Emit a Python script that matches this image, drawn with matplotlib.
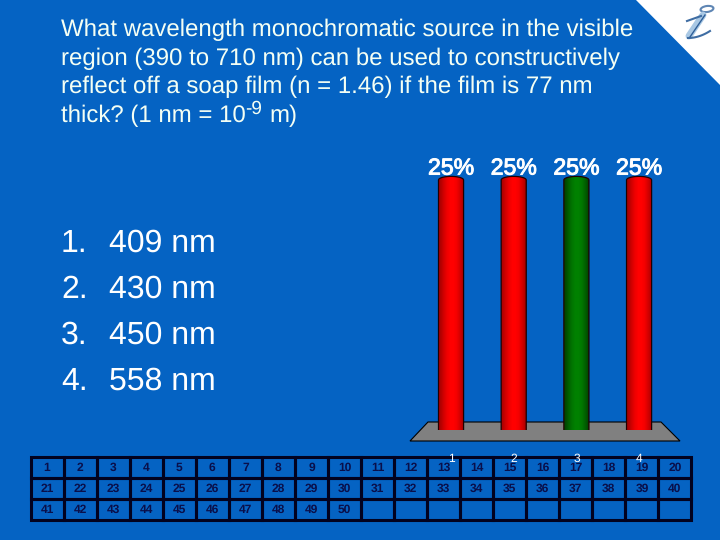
import matplotlib

matplotlib.use("Agg")
import matplotlib.patheffects as pe
import matplotlib.pyplot as plt
import numpy as np
from matplotlib.patches import Ellipse, PathPatch, Polygon, Rectangle
from matplotlib.path import Path

W, H = 720, 540
BG = "#0563c3"
INK = "#0a0f4a"

question_lines = [
    "What wavelength monochromatic source in the visible",
    "region (390 to 710 nm) can be used to constructively",
    "reflect off a soap film (n = 1.46) if the film is 77 nm",
    "thick? (1 nm = 10",
]
answer_nums = ["1.", "2.", "3.", "4."]
answers = ["409 nm", "430 nm", "450 nm", "558 nm"]
bar_names = ["1", "2", "3", "4"]
bar_values = [25, 25, 25, 25]
bar_colors = [
    ("#b00000", "#ff0000"),
    ("#b00000", "#ff0000"),
    ("#004800", "#008000"),
    ("#b00000", "#ff0000"),
]
team_numbers = [list(range(1, 21)), list(range(21, 41)), list(range(41, 51))]

plt.rcParams["font.family"] = ["Liberation Sans", "DejaVu Sans"]
plt.rcParams["text.hinting"] = "no_hinting"
plt.rcParams["text.hinting_factor"] = 1
fig = plt.figure(figsize=(W / 100, H / 100), dpi=100, facecolor=BG)

# 背景は左上原点のピクセル座標
bg = fig.add_axes([0, 0, 1, 1])
bg.set_xlim(0, W)
bg.set_ylim(H, 0)
bg.axis("off")

# 右上の白い角とロゴ
bg.add_patch(Polygon([(636, 0), (720, 0), (720, 85)], fc="white", ec="none"))
bg.add_patch(Ellipse((707, 9), 13, 6, angle=-8, fc="none", ec="#5f86b4", lw=1.5))
t = np.linspace(0, 1, 30)
bg.plot(703 - 14 * t, 15 + 21 * t, color="#a9c8e4", lw=5, solid_capstyle="round")
bg.plot(688 + 22 * t, 38 - 7 * t ** 2, color="#3f6da3", lw=1.5)
bg.plot(687 + 14 * t, 21 - 5 * t, color="#3f6da3", lw=1.5)
bg.plot(705 - 15 * t, 15 + 22 * t, color="#2f5f98", lw=1)

# 問題文
for i, line in enumerate(question_lines):
    bg.text(61, 36 + i * 28.7, line, color="#f4fff4", fontsize=17.1,
            ha="left", va="baseline")
bg.text(245, 114, "-9", color="#f4fff4", fontsize=13.5, ha="left", va="baseline")
bg.text(269, 122, "m)", color="#f4fff4", fontsize=17.1, ha="left", va="baseline")

# 選択肢
for i, (num, ans) in enumerate(zip(answer_nums, answers)):
    y = 252 + i * 46
    bg.text(61, y, num, color="white", fontsize=23, ha="left", va="baseline")
    bg.text(109, y, ans, color="white", fontsize=23, ha="left", va="baseline")

# 棒の台
bg.add_patch(Polygon([(428, 422), (661, 422), (680, 441), (410, 441)],
                     fc="#808080", ec="black", lw=0.8))

# 回答番号の表
x0 = 30.5
cw, rows_y = 33.05, [456.5, 477.5, 499, 520]
for r in range(3):
    for c in range(20):
        bg.add_patch(Rectangle((x0 + c * cw, rows_y[r]), cw, rows_y[r + 1] - rows_y[r],
                               fc="none", ec="#02021f", lw=2.2))
        if c < len(team_numbers[r]):
            bg.text(x0 + (c + 0.5) * cw, (rows_y[r] + rows_y[r + 1]) / 2 + 0.5,
                    str(team_numbers[r][c]), color=INK, fontsize=8.4, fontweight="bold",
                    ha="center", va="center")

# 棒グラフ本体
left, width, bottom, height = 419.7, 250.7, 430, 300
ax = fig.add_axes([left / W, (H - bottom) / H, width / W, height / H], zorder=3)
ax.patch.set_visible(False)
for s in ax.spines.values():
    s.set_visible(False)
ax.yaxis.set_visible(False)

xs = np.arange(len(bar_values))
bars = ax.bar(xs, bar_values, width=0.4, color="none", edgecolor="none")
cap = 0.36
grad = np.array([0, 0.45, 0.8, 1.0, 1.0, 0.85, 0.45, 0.0])
for bar, (dark, bright) in zip(bars, bar_colors):
    bx, bw, bh = bar.get_x(), bar.get_width(), bar.get_height()
    th = np.linspace(0, np.pi, 40)
    xc = bx + bw / 2
    top = np.column_stack([xc + bw / 2 * np.cos(th), bh + cap * np.sin(th)])
    low = np.column_stack([xc - bw / 2 * np.cos(th), -cap * np.sin(th)])
    outline = np.vstack([top, low, top[:1]])
    patch = PathPatch(Path(outline), fc="none", ec="#200000", lw=0.9, zorder=3)
    ax.add_patch(patch)
    d = np.array(matplotlib.colors.to_rgb(dark))
    b = np.array(matplotlib.colors.to_rgb(bright))
    img = (d[None, :] + grad[:, None] * (b - d))[None, :, :]
    im = ax.imshow(img, extent=(bx, bx + bw, -cap, bh + cap), aspect="auto",
                   interpolation="bilinear", zorder=2)
    im.set_clip_path(patch)
ax.set_xlim(-0.5, 3.5)
ax.set_ylim(0, 30)

pct = ax.bar_label(bars, labels=[f"{v}%" for v in bar_values], color="white",
                   fontsize=16.6, padding=0.5)
for lab in pct:
    lab.set_path_effects([pe.withStroke(linewidth=0.7, foreground="white")])
ax.set_xticks(xs, bar_names, color="white", fontsize=8.5)
ax.tick_params(axis="x", length=0, pad=16.5)

fig.savefig("out.png", dpi=100, facecolor=BG)
